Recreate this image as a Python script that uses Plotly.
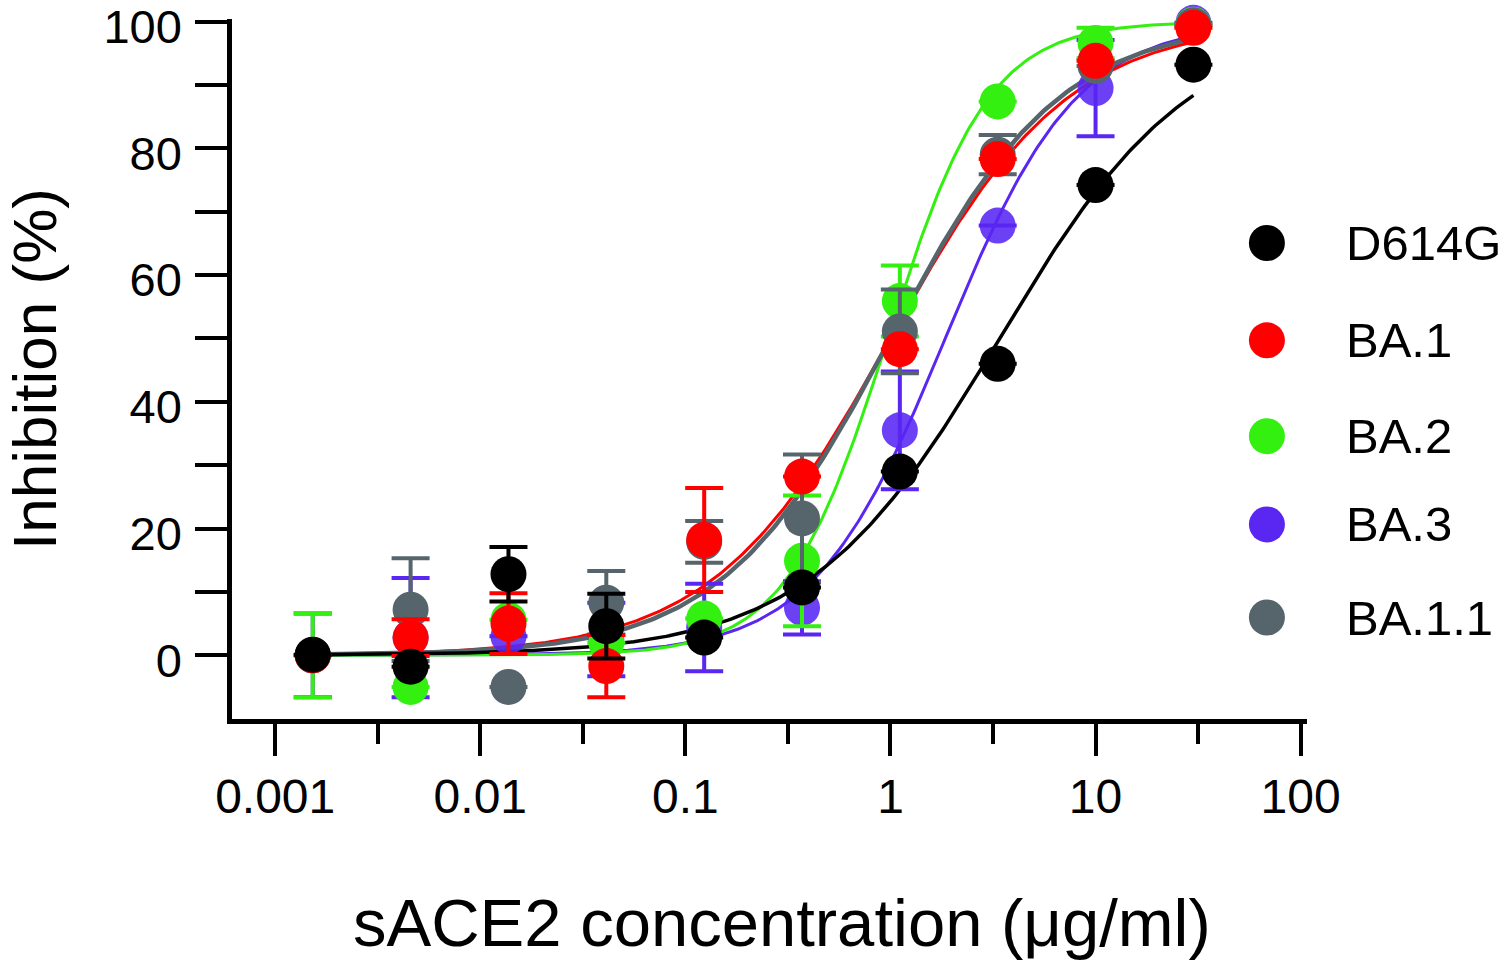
import numpy as np
import plotly.graph_objects as go

# ---------------- data ----------------
conc = [0.001524, 0.004572, 0.01372, 0.04115, 0.1235, 0.3704, 1.111, 3.333, 10, 30]

series_names = ["D614G", "BA.1", "BA.2", "BA.3", "BA.1.1"]

d614g_mean = [0.1, -1.8, 12.8, 4.6, 2.8, 10.7, 29.0, 46.0, 74.2, 93.2]
d614g_err = [0, 0, 4.3, 5.1, 0, 0, 0, 0, 0, 0]

ba1_mean = [0.0, 2.8, 5.0, -1.7, 18.2, 28.2, 48.3, 78.3, 93.8, 99.0]
ba1_err = [0, 2.9, 4.8, 4.9, 8.2, 0, 0, 0, 0, 0]

ba2_mean = [0.0, -5.0, 5.6, 2.0, 5.8, 14.9, 55.9, 87.4, 96.6, 99.5]
ba2_err = [6.6, 0, 0, 0, 0, 10.3, 5.6, 0, 2.4, 0]

ba3_mean = [0.0, 2.8, 3.0, 2.5, 4.4, 7.5, 35.5, 67.8, 89.5, 99.8]
ba3_err = [6.6, 9.4, 0, 5.8, 6.9, 4.2, 9.3, 0, 7.6, 0]

ba11_mean = [0.0, 7.2, -5.0, 8.3, 17.9, 21.6, 51.1, 79.0, 93.0, 99.4]
ba11_err = [0, 8.1, 0, 5.0, 3.3, 10.1, 6.6, 3.1, 0, 0]

# 4-parameter logistic fit parameters (bottom, top, IC50, Hill) per series
fit_bottom = [0, 0, 0, 0, 0]
fit_top = [100, 100, 100, 100, 100]
fit_ic50 = [3.4, 1.0, 0.97, 1.85, 1.0]
fit_hill = [0.93, 1.0, 1.75, 1.35, 1.05]

x_tickvals = [0.001, 0.01, 0.1, 1, 10, 100]
x_ticktext = ["0.001", "0.01", "0.1", "1", "10", "100"]
x_minorvals = [0.003162, 0.03162, 0.3162, 3.162, 31.62]
y_tickvals = [0, 20, 40, 60, 80, 100]
y_minorvals = [10, 30, 50, 70, 90]

x_title = "sACE2 concentration (μg/ml)"
y_title = "Inhibition (%)"

# ---------------- style ----------------
colors = {
    "D614G": "#000000",
    "BA.1": "#FF0000",
    "BA.2": "#33F010",
    "BA.3": "rgba(88,38,242,0.88)",
    "BA.1.1": "#56656C",
}
line_colors = {
    "D614G": "#000000",
    "BA.1": "#FF0000",
    "BA.2": "#33F010",
    "BA.3": "#5A26F2",
    "BA.1.1": "#56656C",
}
line_widths = {"D614G": 3.5, "BA.1": 3, "BA.2": 3, "BA.3": 3, "BA.1.1": 4.5}

means = {"D614G": d614g_mean, "BA.1": ba1_mean, "BA.2": ba2_mean,
         "BA.3": ba3_mean, "BA.1.1": ba11_mean}
errs = {"D614G": d614g_err, "BA.1": ba1_err, "BA.2": ba2_err,
        "BA.3": ba3_err, "BA.1.1": ba11_err}

FONT = "Liberation Sans, Arial, sans-serif"

fig = go.Figure()

# fitted curves
xc = np.logspace(np.log10(conc[0]), np.log10(conc[-1]), 300)
curve_order = ["BA.3", "BA.2", "BA.1", "BA.1.1", "D614G"]
for name in curve_order:
    i = series_names.index(name)
    yc = fit_bottom[i] + (fit_top[i] - fit_bottom[i]) / (1 + (fit_ic50[i] / xc) ** fit_hill[i])
    fig.add_trace(go.Scatter(
        x=xc, y=yc, mode="lines", showlegend=False, cliponaxis=False,
        line=dict(color=line_colors[name], width=line_widths[name]),
        hoverinfo="skip"))

# points with error bars
point_order = ["BA.3", "BA.2", "BA.1.1", "BA.1", "D614G"]
for name in point_order:
    fig.add_trace(go.Scatter(
        x=conc, y=means[name], mode="markers", name=name, showlegend=False,
        cliponaxis=False,
        marker=dict(size=36, color=colors[name], line=dict(width=0)),
        error_y=dict(type="data", array=errs[name], visible=True,
                     color=line_colors[name], thickness=4, width=19)))

# manual legend (large markers)
legend_y = [0.680, 0.541, 0.404, 0.278, 0.145]
for name, ly in zip(series_names, legend_y):
    fig.add_shape(type="circle", xref="paper", yref="paper",
                  xsizemode="pixel", ysizemode="pixel",
                  xanchor=0.9627, yanchor=ly, x0=-18, x1=18, y0=-18, y1=18,
                  fillcolor=line_colors[name], line=dict(width=0), layer="above")
    fig.add_annotation(x=1.0345, y=ly, xref="paper", yref="paper",
                       text=name, showarrow=False, xanchor="left", yanchor="middle",
                       font=dict(family=FONT, size=49, color="black"))

# x-axis title (placed as annotation for exact horizontal position)
fig.add_annotation(x=0.5116, y=0, xref="paper", yref="paper",
                   text=x_title, showarrow=False, xanchor="center", yanchor="middle",
                   yshift=-203.5, font=dict(family=FONT, size=67, color="black"))

fig.update_layout(
    width=1500, height=964,
    margin=dict(l=232, r=193, t=19, b=245, autoexpand=False),
    paper_bgcolor="white", plot_bgcolor="white",
    showlegend=False,
)

fig.update_xaxes(
    type="log", range=[-3.2107, 2.031], automargin=False,
    tickmode="array", tickvals=x_tickvals, ticktext=x_ticktext,
    ticks="outside", ticklen=32, tickwidth=4, tickcolor="black",
    minor=dict(tickmode="array", tickvals=x_minorvals, ticks="outside",
               ticklen=20, tickwidth=4, tickcolor="black", showgrid=False),
    showline=True, linewidth=4.5, linecolor="black",
    showgrid=False, zeroline=False,
    tickfont=dict(family=FONT, size=48, color="black"),
    ticklabelstandoff=0, ticklabeloverflow="allow",
)
fig.update_yaxes(
    range=[-10.05, 100.4], automargin=False,
    tickmode="array", tickvals=y_tickvals,
    ticks="outside", ticklen=32, tickwidth=4, tickcolor="black",
    minor=dict(tickmode="array", tickvals=y_minorvals, ticks="outside",
               ticklen=32, tickwidth=4, tickcolor="black", showgrid=False),
    showline=True, linewidth=4.5, linecolor="black",
    showgrid=False, zeroline=False,
    tickfont=dict(family=FONT, size=47, color="black"),
    ticklabelstandoff=4, ticklabelshift=5, ticklabeloverflow="allow",
    title=dict(text=y_title, standoff=47,
               font=dict(family=FONT, size=62, color="black")),
)

fig.write_html("out.html", config={"displayModeBar": False},
               post_script="document.body.style.margin='0';document.body.style.padding='0';")
